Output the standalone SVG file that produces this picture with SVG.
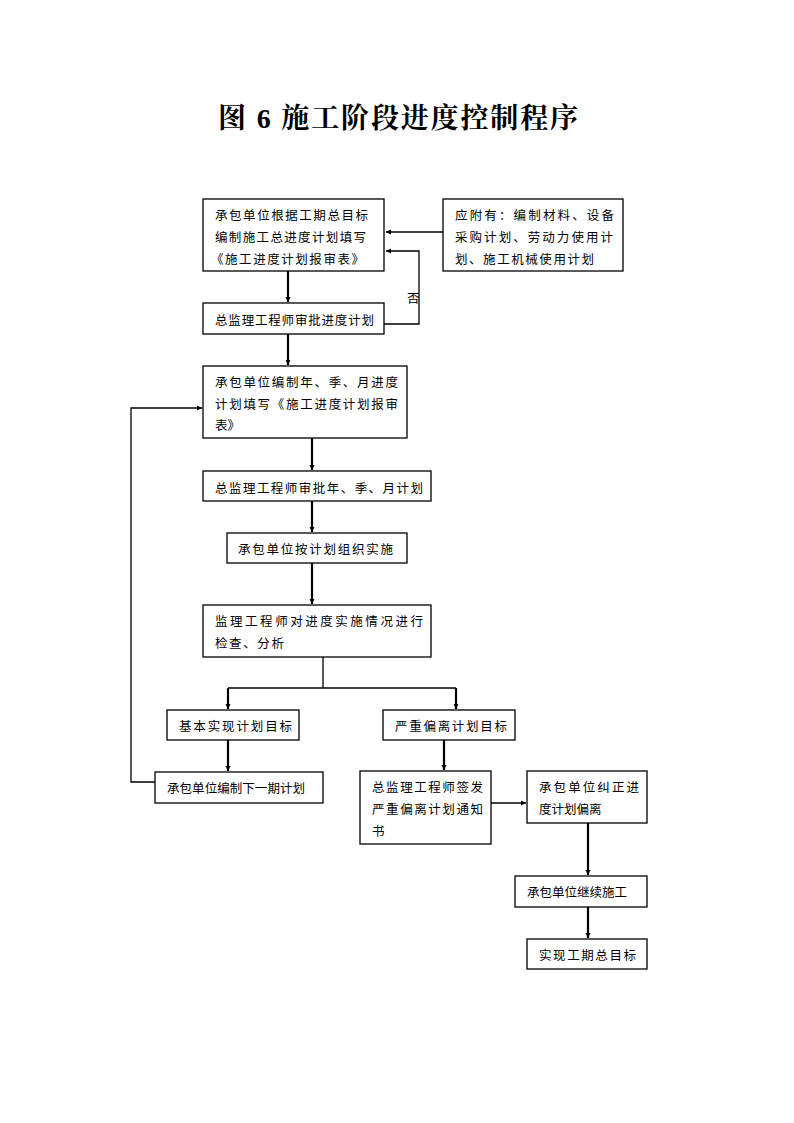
<svg xmlns="http://www.w3.org/2000/svg" width="794" height="1123" viewBox="0 0 794 1123">
<style>
.box{fill:#fff;stroke:#000;stroke-width:1.3}
.t{font-family:"Liberation Serif","Noto Sans CJK SC",serif;font-size:12.5px;fill:#000}
.title{font-family:"Liberation Serif","Noto Serif CJK SC","Noto Sans CJK SC",serif;font-size:28px;font-weight:bold;fill:#000}
.c{fill:none;stroke:#000;stroke-width:1.3}
.ct{fill:none;stroke:#000;stroke-width:2.2}
</style>
<defs>
<marker id="a" markerWidth="6" markerHeight="6" refX="5" refY="3" orient="auto" markerUnits="userSpaceOnUse">
<path d="M0,0.5 L5,3 L0,5.5 Z" fill="#000"/>
</marker>
</defs>
<rect width="794" height="1123" fill="#fff"/>
<text class="title" x="218" y="128" textLength="360" lengthAdjust="spacing">图 6 施工阶段进度控制程序</text>
<g id="connectors">
<line class="c" x1="443" y1="232" x2="386" y2="232" marker-end="url(#a)"/>
<line class="ct" x1="288" y1="271" x2="288" y2="302" marker-end="url(#a)"/>
<polyline class="c" points="384,324 419,324 419,251 386,251" marker-end="url(#a)"/>
<line class="ct" x1="288" y1="334" x2="288" y2="365" marker-end="url(#a)"/>
<line class="ct" x1="312" y1="438" x2="312" y2="470" marker-end="url(#a)"/>
<line class="ct" x1="312" y1="501" x2="312" y2="532" marker-end="url(#a)"/>
<line class="ct" x1="312" y1="563" x2="312" y2="604" marker-end="url(#a)"/>
<polyline class="c" points="323,657 323,688"/>
<polyline class="c" points="228,688 456,688"/>
<line class="ct" x1="228" y1="688" x2="228" y2="709" marker-end="url(#a)"/>
<line class="ct" x1="456" y1="688" x2="456" y2="709" marker-end="url(#a)"/>
<line class="ct" x1="228" y1="740" x2="228" y2="771" marker-end="url(#a)"/>
<polyline class="c" points="155,782 131,782 131,408 202,408" marker-end="url(#a)"/>
<line class="ct" x1="444" y1="740" x2="444" y2="770" marker-end="url(#a)"/>
<line class="c" x1="491" y1="803" x2="526" y2="803" marker-end="url(#a)"/>
<line class="ct" x1="588" y1="823" x2="588" y2="875" marker-end="url(#a)"/>
<line class="ct" x1="588" y1="907" x2="588" y2="938" marker-end="url(#a)"/>
<text class="t" x="407" y="303">否</text>
</g>
<g id="n1"><rect class="box" x="203" y="199" width="181" height="72"/>
<text class="t" x="215" y="220" textLength="153" lengthAdjust="spacing">承包单位根据工期总目标</text>
<text class="t" x="215" y="242" textLength="151" lengthAdjust="spacing">编制施工总进度计划填写</text>
<text class="t" x="211" y="264" textLength="153" lengthAdjust="spacing">《施工进度计划报审表》</text></g>
<g id="n2"><rect class="box" x="443" y="199" width="180" height="72"/>
<text class="t" x="455" y="220" textLength="159" lengthAdjust="spacing">应附有：编制材料、设备</text>
<text class="t" x="455" y="242" textLength="158" lengthAdjust="spacing">采购计划、劳动力使用计</text>
<text class="t" x="455" y="264" textLength="139" lengthAdjust="spacing">划、施工机械使用计划</text></g>
<g id="n3"><rect class="box" x="203" y="303" width="181" height="31"/>
<text class="t" x="215" y="325" textLength="159" lengthAdjust="spacing">总监理工程师审批进度计划</text></g>
<g id="n4"><rect class="box" x="203" y="366" width="204" height="72"/>
<text class="t" x="215" y="387" textLength="183" lengthAdjust="spacing">承包单位编制年、季、月进度</text>
<text class="t" x="215" y="409" textLength="183" lengthAdjust="spacing">计划填写《施工进度计划报审</text>
<text class="t" x="215" y="430">表》</text></g>
<g id="n5"><rect class="box" x="203" y="471" width="228" height="30"/>
<text class="t" x="215" y="493" textLength="208" lengthAdjust="spacing">总监理工程师审批年、季、月计划</text></g>
<g id="n6"><rect class="box" x="227" y="533" width="180" height="30"/>
<text class="t" x="238" y="554" textLength="155" lengthAdjust="spacing">承包单位按计划组织实施</text></g>
<g id="n7"><rect class="box" x="203" y="605" width="228" height="52"/>
<text class="t" x="215" y="626" textLength="208" lengthAdjust="spacing">监理工程师对进度实施情况进行</text>
<text class="t" x="215" y="648" textLength="69" lengthAdjust="spacing">检查、分析</text></g>
<g id="n8"><rect class="box" x="167" y="710" width="132" height="30"/>
<text class="t" x="179" y="731" textLength="113" lengthAdjust="spacing">基本实现计划目标</text></g>
<g id="n9"><rect class="box" x="383" y="710" width="132" height="30"/>
<text class="t" x="395" y="731" textLength="112" lengthAdjust="spacing">严重偏离计划目标</text></g>
<g id="n10"><rect class="box" x="155" y="772" width="168" height="31"/>
<text class="t" x="167" y="793" textLength="138" lengthAdjust="spacing">承包单位编制下一期计划</text></g>
<g id="n11"><rect class="box" x="360" y="771" width="131" height="73"/>
<text class="t" x="372" y="792" textLength="111" lengthAdjust="spacing">总监理工程师签发</text>
<text class="t" x="372" y="814" textLength="111" lengthAdjust="spacing">严重偏离计划通知</text>
<text class="t" x="372" y="836">书</text></g>
<g id="n12"><rect class="box" x="527" y="771" width="120" height="52"/>
<text class="t" x="539" y="792" textLength="100" lengthAdjust="spacing">承包单位纠正进</text>
<text class="t" x="539" y="814">度计划偏离</text></g>
<g id="n13"><rect class="box" x="515" y="876" width="132" height="31"/>
<text class="t" x="527" y="897">承包单位继续施工</text></g>
<g id="n14"><rect class="box" x="527" y="939" width="120" height="30"/>
<text class="t" x="539" y="960" textLength="97" lengthAdjust="spacing">实现工期总目标</text></g>
</svg>
